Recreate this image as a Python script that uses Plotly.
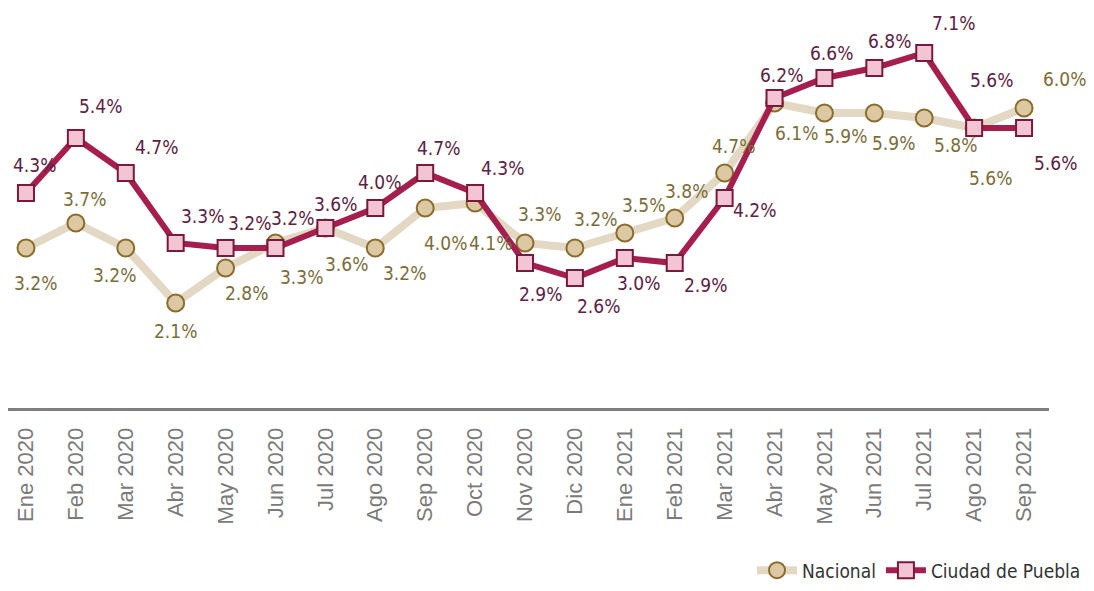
import plotly.graph_objects as go

months = ["Ene 2020", "Feb 2020", "Mar 2020", "Abr 2020", "May 2020", "Jun 2020", "Jul 2020",
          "Ago 2020", "Sep 2020", "Oct 2020", "Nov 2020", "Dic 2020", "Ene 2021", "Feb 2021",
          "Mar 2021", "Abr 2021", "May 2021", "Jun 2021", "Jul 2021", "Ago 2021", "Sep 2021"]
nacional = [3.2, 3.7, 3.2, 2.1, 2.8, 3.3, 3.6, 3.2, 4.0, 4.1, 3.3, 3.2, 3.5, 3.8, 4.7,
            6.1, 5.9, 5.9, 5.8, 5.6, 6.0]
puebla = [4.3, 5.4, 4.7, 3.3, 3.2, 3.2, 3.6, 4.0, 4.7, 4.3, 2.9, 2.6, 3.0, 2.9, 4.2,
          6.2, 6.6, 6.8, 7.1, 5.6, 5.6]

# label offsets in pixels (styling): (dx, dy) with dy positive = downwards
off_nacional = [(10, 35), (9, -24), (-11, 27), (0, 28), (21, 25), (26, 34), (21, 36),
                (29, 25), (20, 35), (15, 40), (14, -29), (21, -29), (19, -28), (12, -27),
                (9, -27), (22, 30), (21, 23), (19, 30), (31, 27), (16, 50), (40, -29)]
off_puebla = [(9, -28), (25, -32), (31, -26), (27, -27), (24, -25), (17, -30), (10, -24),
              (4, -26), (13, -25), (27, -25), (15, 31), (24, 28), (14, 25), (31, 22),
              (30, 12), (7, -23), (7, -25), (15, -27), (29, -30), (17, -48), (31, 35)]

label_font = "DejaVu Sans Condensed, Liberation Sans Narrow, Arial Narrow, sans-serif"
c_nac_text = "#7b6d3a"
c_pue_text = "#5b2245"

fig = go.Figure()
fig.add_trace(go.Scatter(
    x=months, y=nacional, name="Nacional", mode="lines+markers",
    line=dict(color="#e3d8c3", width=8),
    marker=dict(symbol="circle", size=17, color="#dcc9a3",
                line=dict(color="#8a6c2c", width=2)),
    cliponaxis=False,
))
fig.add_trace(go.Scatter(
    x=months, y=puebla, name="Ciudad de Puebla", mode="lines+markers",
    line=dict(color="#a51e4e", width=6),
    marker=dict(symbol="square", size=16, color="#f2c4d4",
                line=dict(color="#7a1a3a", width=2)),
    cliponaxis=False,
))

annotations = []
for series, offs, col in ((nacional, off_nacional, c_nac_text), (puebla, off_puebla, c_pue_text)):
    for m, v, (dx, dy) in zip(months, series, offs):
        annotations.append(dict(
            x=m, y=v, xref="x", yref="y", text=f"{v:.1f}%", showarrow=False,
            xshift=dx, yshift=-dy, xanchor="center", yanchor="middle",
            font=dict(family=label_font, size=19, color=col),
        ))

fig.update_layout(
    width=1078, height=575,
    margin=dict(l=0, r=37, t=0, b=175, autoexpand=False),
    paper_bgcolor="white", plot_bgcolor="white",
    showlegend=True,
    legend=dict(orientation="h", xref="container", yref="container",
                x=1.0, xanchor="right", y=0.022, yanchor="middle",
                font=dict(family=label_font, size=19, color="#333333"),
                bgcolor="rgba(0,0,0,0)", itemwidth=40, tracegroupgap=0),
    annotations=annotations,
    xaxis=dict(type="category", range=[-0.36, 20.5], showline=True, linecolor="#7f7f7f",
               linewidth=3, showgrid=False, zeroline=False, tickangle=-90, ticks="",
               ticklabelstandoff=8, automargin=False,
               tickfont=dict(family="Liberation Sans, Arial, sans-serif", size=22, color="#7a7a7a")),
    yaxis=dict(range=[0, 8], visible=False, showgrid=False, zeroline=False, automargin=False),
)

fig.write_html("out.html")
